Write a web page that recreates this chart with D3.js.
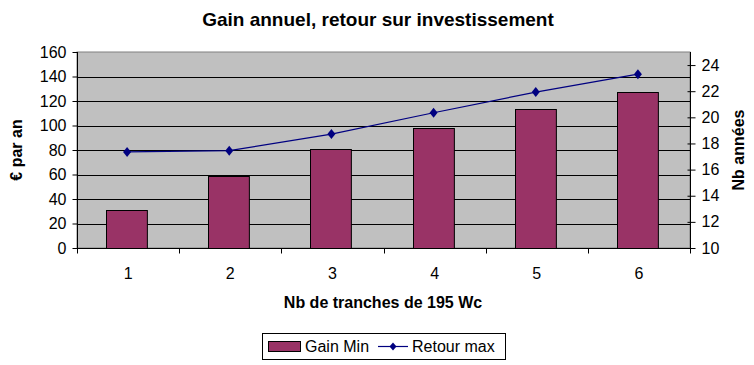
<!DOCTYPE html>
<html>
<head>
<meta charset="utf-8">
<script src="https://cdn.jsdelivr.net/npm/d3@7"></script>
<style>
  body { margin: 0; background: #fff; }
  text { font-family: "Liberation Sans", Arial, sans-serif; }
</style>
</head>
<body>
<svg id="chart"></svg>
<script>
// data
const categories = ["1", "2", "3", "4", "5", "6"];
const gainMin = [31, 59, 81, 98, 113.5, 127.5];
const retourMax = [17.35, 17.45, 18.72, 20.35, 21.93, 23.3];
const leftTicks = [0, 20, 40, 60, 80, 100, 120, 140, 160];
const rightTicks = [10, 12, 14, 16, 18, 20, 22, 24];

const width = 754, height = 365;
const svg = d3.select("#chart").attr("width", width).attr("height", height);

const plot = { left: 77, right: 690, top: 52, bottom: 248 };

const x = d3.scaleBand()
    .domain(categories)
    .range([plot.left, plot.right]);

const yL = d3.scaleLinear().domain([0, 160]).range([plot.bottom, plot.top]);
const yR = d3.scaleLinear().domain([10, 25]).range([plot.bottom, plot.top]);

// plot background
svg.append("rect")
    .attr("x", plot.left).attr("y", plot.top)
    .attr("width", plot.right - plot.left)
    .attr("height", plot.bottom - plot.top)
    .attr("fill", "#c0c0c0")
    .attr("stroke", "#808080");

// gridlines
svg.append("g")
    .selectAll("line")
    .data(leftTicks.slice(1, -1))
    .join("line")
    .attr("x1", plot.left).attr("x2", plot.right)
    .attr("y1", d => Math.round(yL(d)) + 0.5)
    .attr("y2", d => Math.round(yL(d)) + 0.5)
    .attr("stroke", "#000");

// bars
const barW = x.bandwidth() * 0.4;
svg.append("g")
    .selectAll("rect")
    .data(gainMin)
    .join("rect")
    .attr("x", (d, i) => Math.round(x(categories[i]) + x.bandwidth() / 2 - barW / 2 - 1.5) + 0.5)
    .attr("y", d => Math.round(yL(d)) + 0.5)
    .attr("width", barW)
    .attr("height", d => plot.bottom - Math.round(yL(d)))
    .attr("fill", "#993366")
    .attr("stroke", "#000");

// line series
const cx = (d, i) => x(categories[i]) + x.bandwidth() / 2 - 1;
svg.append("path")
    .datum(retourMax)
    .attr("fill", "none")
    .attr("stroke", "#000080")
    .attr("stroke-width", 1.2)
    .attr("d", d3.line().x(cx).y(d => yR(d)));

svg.append("g")
    .selectAll("path")
    .data(retourMax)
    .join("path")
    .attr("transform", (d, i) => `translate(${cx(d, i)},${yR(d)})`)
    .attr("d", "M0,-5L4,0L0,5L-4,0Z")
    .attr("fill", "#000080");

// axes
const tickFont = g => g.selectAll("text")
    .style("font-size", "16px")
    .attr("fill", "#000");

svg.append("g")
    .attr("transform", `translate(${plot.left + 0.5},0)`)
    .call(d3.axisLeft(yL).tickValues(leftTicks).tickSize(5).tickPadding(6))
    .call(g => g.select(".domain").attr("d", `M0,${plot.top}V${plot.bottom + 5}`))
    .call(tickFont);

svg.append("g")
    .attr("transform", `translate(${plot.right + 0.5},0)`)
    .call(d3.axisRight(yR).tickValues(rightTicks).tickSize(5).tickPadding(6))
    .call(g => g.selectAll(".tick line").attr("x1", -3))
    .call(g => g.select(".domain").attr("d", `M0,${plot.top}V${plot.bottom + 5}`))
    .call(tickFont);

// bottom axis: ticks at category boundaries
const bottom = svg.append("g")
    .attr("transform", `translate(0,${plot.bottom + 0.5})`);
bottom.append("line")
    .attr("x1", plot.left).attr("x2", plot.right)
    .attr("stroke", "#000");
bottom.selectAll("line.tk")
    .data(categories.concat(["end"]))
    .join("line")
    .attr("class", "tk")
    .attr("x1", (d, i) => Math.round(plot.left + i * x.step()) + 0.5)
    .attr("x2", (d, i) => Math.round(plot.left + i * x.step()) + 0.5)
    .attr("y1", 0).attr("y2", 5)
    .attr("stroke", "#000");
bottom.selectAll("text")
    .data(categories)
    .join("text")
    .attr("x", d => x(d) + x.bandwidth() / 2)
    .attr("y", 30)
    .attr("text-anchor", "middle")
    .style("font-size", "16px")
    .text(d => d);

// titles
svg.append("text")
    .attr("x", 378).attr("y", 26)
    .attr("text-anchor", "middle")
    .style("font-size", "19px").style("font-weight", "bold")
    .text("Gain annuel, retour sur investissement");

svg.append("text")
    .attr("x", 383).attr("y", 308)
    .attr("text-anchor", "middle")
    .style("font-size", "16px").style("font-weight", "bold")
    .text("Nb de tranches de 195 Wc");

svg.append("text")
    .attr("transform", "translate(22,150) rotate(-90)")
    .attr("text-anchor", "middle")
    .style("font-size", "16px").style("font-weight", "bold")
    .text("€ par an");

svg.append("text")
    .attr("transform", "translate(744,150) rotate(-90)")
    .attr("text-anchor", "middle")
    .style("font-size", "16px").style("font-weight", "bold")
    .text("Nb années");

// legend
const legend = svg.append("g").attr("transform", "translate(262,333)");
legend.append("rect")
    .attr("x", 0.5).attr("y", 0.5)
    .attr("width", 243).attr("height", 26)
    .attr("fill", "#fff").attr("stroke", "#000");
legend.append("rect")
    .attr("x", 6.5).attr("y", 8.5)
    .attr("width", 32).attr("height", 10)
    .attr("fill", "#993366").attr("stroke", "#000");
legend.append("text")
    .attr("x", 43).attr("y", 19)
    .style("font-size", "16px")
    .text("Gain Min");
legend.append("line")
    .attr("x1", 116).attr("x2", 146)
    .attr("y1", 13.5).attr("y2", 13.5)
    .attr("stroke", "#000080").attr("stroke-width", 1.2);
legend.append("path")
    .attr("transform", "translate(131,13.5)")
    .attr("d", "M0,-4L3.5,0L0,4L-3.5,0Z")
    .attr("fill", "#000080");
legend.append("text")
    .attr("x", 150).attr("y", 19)
    .style("font-size", "16px")
    .text("Retour max");
</script>
</body>
</html>
